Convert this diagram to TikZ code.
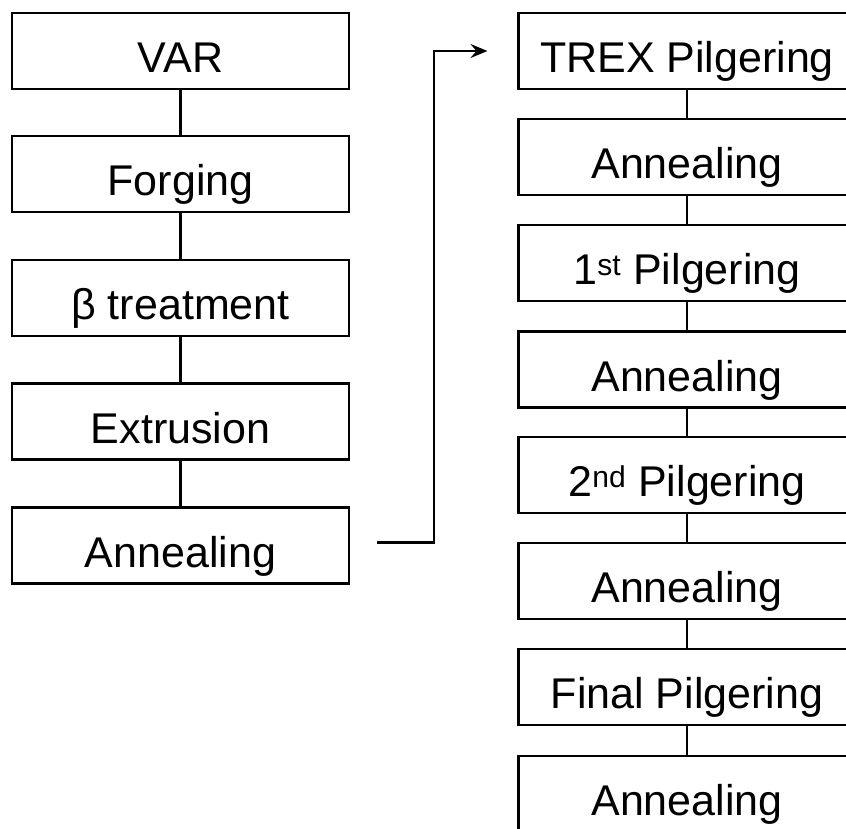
\documentclass[tikz,border=0pt]{standalone}
\usepackage{fontspec}
\setmainfont{Liberation Sans}
\usetikzlibrary{arrows.meta}
\begin{document}
\begin{tikzpicture}[x=1pt,y=-1pt,
  stepbox/.style={draw, line width=2.1pt, minimum width=337pt, minimum height=76pt,
    inner sep=0pt, font=\fontsize{43}{50}\selectfont, text height=46pt, text depth=3pt},
  link/.style={line width=2.1pt},
  flow/.style={line width=2.1pt, -{Stealth[length=17pt, width=14pt, inset=6pt]}}]
  \useasboundingbox (0,0) rectangle (846,828);
  \clip (0,0) rectangle (846,828);

  % first stage
  \node[stepbox] (var)  at (180.5,51)    {VAR};
  \node[stepbox] (forg) at (180.5,174)   {Forging};
  \node[stepbox] (beta) at (180.5,298)   {β treatment};
  \node[stepbox] (extr) at (180.5,421.5) {Extrusion};
  \node[stepbox] (lann) at (180.5,545.5) {Annealing};

  % tube reduction stage
  \node[stepbox] (trex) at (687,51)    {TREX Pilgering};
  \node[stepbox] (ann1) at (687,157)   {Annealing};
  \node[stepbox] (pil1) at (687,263)   {1\textsuperscript{st} Pilgering};
  \node[stepbox] (ann2) at (687,369.5) {Annealing};
  \node[stepbox] (pil2) at (687,475)   {2\textsuperscript{nd} Pilgering};
  \node[stepbox] (ann3) at (687,581)   {Annealing};
  \node[stepbox] (pilf) at (687,687)   {Final Pilgering};
  \node[stepbox] (ann4) at (687,794)   {Annealing};

  % vertical links
  \foreach \a/\b in {var/forg, forg/beta, beta/extr, extr/lann,
                     trex/ann1, ann1/pil1, pil1/ann2, ann2/pil2,
                     pil2/ann3, ann3/pilf, pilf/ann4}
    \draw[link] (\a.south) -- (\b.north);

  % hand-over between the two stages
  \coordinate (bend) at ([xshift=84pt,yshift=3pt]lann.east);
  \draw[flow] ([xshift=27pt,yshift=3pt]lann.east) -- (bend) |- ([xshift=-30pt]trex.west);
\end{tikzpicture}
\end{document}
